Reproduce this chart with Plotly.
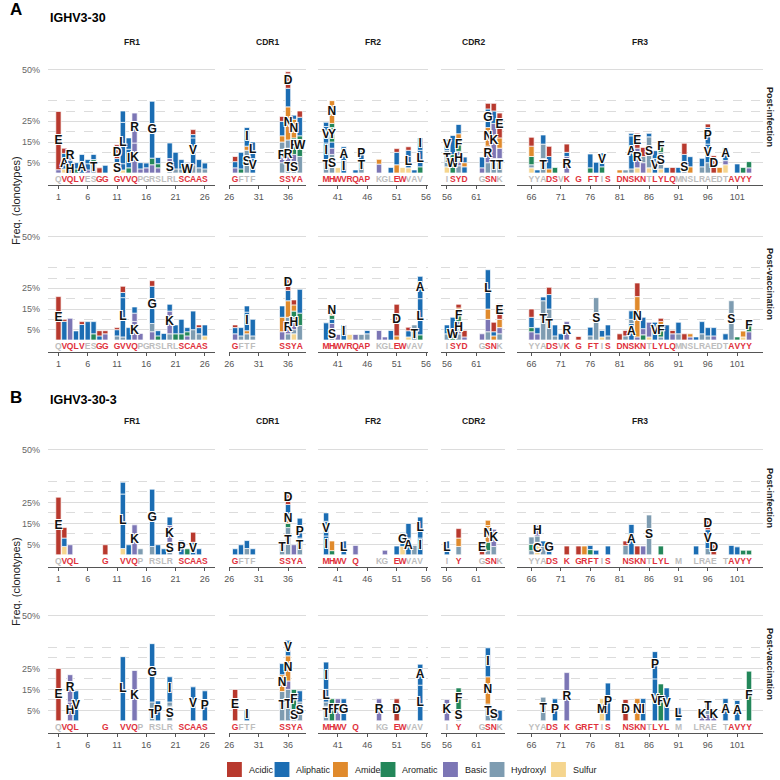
import plotly.graph_objects as go

# ---------------- data ----------------
GENES = ["IGHV3-30", "IGHV3-30-3"]
CONDITIONS = ["Post-infection", "Post-vaccination"]
REGIONS = ["FR1", "CDR1", "FR2", "CDR2", "FR3"]
REGION_SPAN = [(1, 26), (27, 38), (39, 55), (56, 65), (66, 103)]
X_TICKS = [[1, 6, 11, 16, 21, 26], [26, 31, 36], [41, 46, 51, 56], [56, 61],
           [66, 71, 76, 81, 86, 91, 96, 101]]
Y_TICKS = [5, 15, 25, 50]
Y_TICK_TEXT = ["5%", "15%", "25%", "50%"]
Y_MINOR = [10, 20, 30, 35]
PROPERTIES = ["Acidic", "Aliphatic", "Amide", "Aromatic", "Basic", "Hydroxyl", "Sulfur"]
PROPERTY_AA = ["DE", "AGILPV", "NQ", "FWY", "HKR", "ST", "CM"]

# germline sequence per region (uppercase = highlighted red, lowercase = grey, space = none)
SEQ_A = ["qVQLVesGG GVVQpgrslrlSCAAS", "Gftf    SSYA", "MHWVRQAP kglEWvav", "iSYD  gSNk",
         "yyaDSvK G FTiS DNSKNtLYLQmnslraedtAVYY"]
SEQ_B = ["qVQL    G  VVQp rslr SCAAS", "Gftf    SSYA", "MHWV Q   kg EWvav", "i Y   gSNk",
         "yyaDS K GRFTiS  NSKNtLYL m  lrae tAVYY"]

# position -> stacked segments bottom-up: residue + freq (%); uppercase residue = labelled
A_INF = {
    1: "k1.6 E28.2", 2: "c2 A5 a2.5 e2.5", 3: "H3 a3 R4.5", 4: "f2 a3", 5: "A4.5 a4.5",
    6: "k1.5 a3 a2", 7: "T5 f1.5 a2.5", 8: "e2.5", 9: "a3.7", 11: "S4 a3 D5.5 e1.2",
    12: "c1.5 a3 L20 a5.5", 13: "f2.5 I9 a5.5", 14: "K14.5 R14.5", 15: "k2 a3", 16: "k2.5 a2.3",
    17: "k4 f3.2 G27.5", 18: "k2.5 f2 a3", 20: "S5 k2 a7.5", 21: "s2 a8", 22: "s2 a4.5",
    23: "W3 s2.2", 24: "s4 V13 a1.6 e2.4", 25: "s2.5 a4", 26: "s2 a2.8",
    27: "k2.5 a3 e2.5", 28: "f2 a8", 29: "S11 n2 I9", 30: "V7 L8",
    35: "s5 R6.5 s3.5 n3 a7 e2.4", 36: "T5 R7 s4 N16 a9 D7 e1", 37: "S5 k4 F8 N9 a2",
    38: "s8 W10 a9 e3",
    39: "T6.5 I8 V8 a2", 40: "S9 k3 a3 Y7 f2 N11", 41: "c2.6", 42: "I6 A5 a1.7", 44: "a1.5",
    45: "T6.5 P5.8", 48: "k4.3 n2.3", 50: "a2.7", 51: "n4 a6 e1.8", 52: "c2.7",
    53: "c2.5 L5.5 a3 e1.7", 54: "a1.5", 55: "f3 L8 I6",
    56: "c3 T8 V5.3", 57: "W9 a9.2", 58: "s3.5 H7 F6 n2.5 a4.5", 59: "a3 n2 a2.7",
    62: "k2.5 a5.2", 63: "s5 R8 N9 G9 e2.7", 64: "T7 K17 a6 e3.7", 65: "T7 k5 n5 E12",
    66: "c2.5 s1.5 f4 n5 e4.3", 67: "a1.5", 68: "T7 s7 a4.4", 69: "n2 a6 e4.9", 70: "f2.7",
    72: "R8 a2 e4", 76: "f2.5 a6.7", 77: "a5.2", 78: "f3 V6.7", 81: "n1.5", 82: "s1.5",
    83: "s2 A16 a1.2", 84: "c2.5 R9.5 E7.2", 85: "k5 s3 e4.4", 86: "c2.5 S15 a1.7",
    87: "V7 a3.8", 88: "c2 S8 F5.2", 89: "a2.7", 90: "e2.7", 91: "a2.7", 92: "S5 a4 e5.4",
    93: "n3 a4.9", 95: "s3 a4.1", 96: "s5 V9 P8 e1.7", 97: "D8.4", 98: "n2.7",
    99: "c4 k2 A6.4", 101: "a4.4", 102: "f2.7", 103: "k2.5 f3",
}
A_VAC = {
    1: "E21", 2: "a9 e1", 3: "k10.5", 4: "a4.4", 5: "a7.5 e1.4", 6: "a8.9", 7: "f3 a5.9",
    8: "a2 e2.5", 9: "k3 e1.5", 11: "s2 a3 e1", 12: "s1.5 L19 a2.5 e3", 13: "a6",
    14: "K9 k4 a3", 15: "k3.2", 17: "k4 s4 G18 e2.7", 18: "f2 a2.5", 19: "a3.2",
    20: "s3 K11 a3.3", 21: "f3 a4.3", 22: "f3 a7", 23: "k2 f2 a2", 24: "s5 a9",
    25: "s3 a3 e1.3", 26: "c2 a5.3",
    27: "k3 a3 e1.3", 28: "s2 a4", 29: "s3 n1.5 I9 a3", 30: "s2 a8", 35: "k4 n7 a5.5",
    36: "s3 R6 s2 n8 a5 D7", 37: "c3 s2 H6 f3 n3 e2.4", 38: "s7 f6 a11.5",
    39: "a8.3", 40: "S5 k3 a2 f2 N4", 41: "k2.7", 42: "I7.3", 43: "c2.7", 44: "k2.7",
    45: "s2.7", 46: "s3 a1.6", 48: "k4.6", 49: "k1.5", 50: "a4.6", 51: "n2 D15.3",
    53: "c1.5 a3 e1.7", 54: "T5 s2.3", 55: "f2.5 L17.5 A10.8",
    56: "s3 a4.3", 57: "W5 a6", 58: "s3 H6 F5 n1.5 e1.8", 59: "k1.5 e3.1", 62: "k3",
    63: "s4 k6 n5 L19", 64: "n2 a2 e4.6", 65: "s3 k3 n4 E7.6",
    66: "k4 f2 a5 e4", 67: "k3 a3", 68: "T19 a1.8", 69: "T15 a7 e3.5", 70: "s2 a5.3",
    71: "a3", 72: "R8.9", 74: "e1.7", 76: "s2 a4.2", 77: "S20.5", 78: "c1.5 a3.1",
    79: "s2 a5.3", 81: "e3", 82: "s2 e2.6", 83: "A8 s2 a4.1", 84: "k1.5 N19.5 e6.6",
    85: "f2.5 k3 a5.5", 86: "c1.5 k7.1", 87: "V8.6", 88: "s1.5 F6 n1.5 e1.5", 89: "a7.3",
    90: "k3 e1.6", 91: "s3 a5.6", 92: "e3", 93: "k1.5 n1.5", 94: "a1.5", 95: "s3 a5.9",
    96: "s2 a4", 97: "k2 a4", 99: "a3", 100: "S19", 101: "f1.5", 102: "c1.5 n2.8",
    103: "k4 F6",
}
B_INF = {
    1: "E27.5", 2: "c4 a4 e5", 3: "k4.8", 9: "e4.8", 12: "c3 L26 a5.6", 13: "a4.8",
    14: "K14.3", 15: "s2.9", 17: "s4 G27.3", 18: "a4.8", 19: "a2.9", 20: "S6 K8 a4",
    22: "P7", 23: "f2.9", 24: "V6 e4.8", 25: "a2.9",
    27: "a2.9", 28: "a4.8", 29: "s3 a3.8", 30: "a2.9", 35: "T6.8", 36: "T13 f2 N4 a5 D6",
    37: "k4.8", 38: "T8 P6 a3.5",
    39: "I9 V7 a4", 40: "f2 n4.6", 42: "L6.6", 44: "k4.5", 49: "k2.2", 51: "a4.2",
    52: "c4 G6.6", 53: "A8 a7", 54: "s4.5", 55: "I8 L10",
    56: "L6.6", 58: "s4 n4 e4.5", 62: "E6.6", 63: "s2 f4 N8 n2.5", 64: "s4 K8.2",
    66: "s2 f3 s3.5", 67: "C6 s3 H5", 68: "s4 a2.6", 69: "G6.6", 72: "e4.2", 74: "e4.2",
    75: "n4.2", 76: "f2.5 a2", 77: "a2.2", 79: "a4.2", 82: "s4.5 e2.1", 83: "A14.5",
    84: "e4.2", 85: "k4.2", 86: "S19", 88: "f4.2", 94: "a4.2", 96: "s3 V9 D5.8",
    97: "D6.6", 100: "a4.5", 101: "a3.8", 102: "f2.2", 103: "f2.2",
}
B_VAC = {
    1: "E25", 3: "H9 R13", 4: "V14.3", 12: "L30.6", 14: "K24", 17: "T6 s3 G27.8",
    18: "P9.5", 20: "S7 s2 I12", 24: "V16.2", 26: "P14.3",
    27: "E15", 29: "I5.2", 35: "T14 N8 a5.3", 36: "T15 k4 N12 V7.4", 37: "S5 F10",
    38: "S9 a5.3",
    39: "T7 s2 L6 I13", 40: "F10.5", 41: "R10.5", 42: "G10.5", 48: "R10.5", 51: "D10.5",
    55: "L17 A10",
    56: "K10.2", 58: "S5 F10.7", 63: "T8 N13 I13.8", 64: "S5.1", 65: "a5.1",
    68: "T11.3", 70: "P10.5", 72: "R23", 78: "M10.6", 79: "P18", 82: "D10.2", 84: "N10.6",
    85: "I10.6", 87: "V20 P13", 88: "F17.6", 89: "V15.7", 91: "L6.2", 95: "K5.7",
    96: "k3 T7.2", 97: "K5.7", 99: "A10.6", 101: "A9.7", 103: "F23.7",
}

# ---------------- styling / layout ----------------
PROP_COLORS = ["#B8392E", "#1B6DB3", "#E08A2C", "#23875A", "#7C76B5", "#7E9CB1", "#F5D58E"]
SEQ_RED, SEQ_GREY = "#E0313C", "#BDBDBD"
FONT = "Liberation Sans, Arial, sans-serif"
S = 780.0
COL_PX = [(44.3, 213.3), (226.7, 305.0), (317.0, 428.0), (441.0, 506.0), (518.0, 766.0)]
X_RANGE = [(-0.8, 27.8), (25.9, 39.1), (37.65, 56.35), (55.0, 66.0), (63.6, 105.4)]
ROW_PX = [(49, 185), (216, 352), (429, 567), (595, 733)]
Y_RANGE = [-5.8, 60]

aa_color = {}
for col, aas in zip(PROP_COLORS, PROPERTY_AA):
    for a in aas:
        aa_color[a] = col

PANELS = [A_INF, A_VAC, B_INF, B_VAC]
SEQS = [SEQ_A, SEQ_A, SEQ_B, SEQ_B]

fig = go.Figure()
layout = dict(
    width=780, height=780, margin=dict(l=0, r=0, t=0, b=0),
    paper_bgcolor="white", plot_bgcolor="white", barmode="overlay",
    showlegend=False, font=dict(family=FONT),
)
shadow = "1px 1px 0 #fff, -1px -1px 0 #fff, 1px -1px 0 #fff, -1px 1px 0 #fff"

for r in range(4):
    data = PANELS[r]
    for c in range(5):
        idx = r * 5 + c + 1
        xa = "x" if idx == 1 else f"x{idx}"
        ya = "y" if idx == 1 else f"y{idx}"
        lo, hi = REGION_SPAN[c]
        xs, ys, bases, cols = [], [], [], []
        lx, ly, lt = [], [], []
        for pos in range(lo, hi + 1):
            if pos not in data:
                continue
            b = 0.0
            for seg in data[pos].split():
                aa, h = seg[0], float(seg[1:])
                xs.append(pos); ys.append(h); bases.append(b)
                cols.append(aa_color[aa.upper()])
                if aa.isupper():
                    lx.append(pos); ly.append(b + h / 2); lt.append(aa)
                b += h
        fig.add_trace(go.Bar(
            x=xs, y=ys, base=bases, width=0.9,
            marker=dict(color=cols, line=dict(color="white", width=0.7)),
            xaxis=xa, yaxis=ya, hoverinfo="skip"))
        seq = SEQS[r][c]
        sx, st, sc = [], [], []
        for i, ch in enumerate(seq):
            if ch == " ":
                continue
            sx.append(lo + i); st.append(ch.upper())
            sc.append(SEQ_RED if ch.isupper() else SEQ_GREY)
        fig.add_trace(go.Scatter(
            x=sx, y=[-3.4] * len(sx), mode="text", text=st,
            textfont=dict(color=sc, size=8.5, family=FONT, weight="bold"),
            xaxis=xa, yaxis=ya, hoverinfo="skip"))
        fig.add_trace(go.Scatter(
            x=lx, y=ly, mode="text", text=lt,
            textfont=dict(color="#111", size=12, family=FONT, weight="bold", shadow=shadow),
            xaxis=xa, yaxis=ya, hoverinfo="skip"))

        x0, x1 = COL_PX[c]
        top, bot = ROW_PX[r]
        layout["xaxis" if idx == 1 else f"xaxis{idx}"] = dict(
            domain=[x0 / S, x1 / S], range=list(X_RANGE[c]), anchor=ya,
            tickmode="array", tickvals=X_TICKS[c], ticks="outside", ticklen=3,
            tickcolor="#555", showline=True, linecolor="#555", linewidth=1.2,
            showgrid=False, zeroline=False,
            tickfont=dict(size=9, color="#555", family=FONT), fixedrange=True)
        layout["yaxis" if idx == 1 else f"yaxis{idx}"] = dict(
            domain=[1 - bot / S, 1 - top / S], range=Y_RANGE, anchor=xa,
            tickmode="array", tickvals=Y_TICKS, ticktext=Y_TICK_TEXT,
            showticklabels=(c == 0), ticks="outside", ticklen=5,
            tickcolor="rgba(0,0,0,0)",
            tickfont=dict(size=9, color="#666", family=FONT),
            showgrid=True, gridcolor="#DCDCDC", gridwidth=1,
            minor=dict(tickvals=Y_MINOR, showgrid=True, griddash="dash",
                       gridcolor="#DCDCDC", gridwidth=1, ticks=""),
            zeroline=False, showline=False, fixedrange=True)

ann = []
def px_ann(x, y, text, size, bold=False, xanchor="center", angle=0, color="#1a1a1a"):
    ann.append(dict(
        x=x / S, y=1 - y / S, xref="paper", yref="paper", text=f"<b>{text}</b>" if bold else text,
        showarrow=False, xanchor=xanchor, yanchor="middle", textangle=angle,
        font=dict(size=size, color=color, family=FONT)))

for g, (ly_label, ly_gene, ly_head, ly_title) in enumerate([(10, 18, 42, 200), (397, 400, 421, 581)]):
    px_ann(4, ly_label, "AB"[g], 17, bold=True, xanchor="left", color="#000")
    px_ann(44, ly_gene, GENES[g], 12.5, bold=True, xanchor="left", color="#000")
    for c in range(5):
        px_ann(sum(COL_PX[c]) / 2, ly_head, REGIONS[c], 8.5, bold=True)
    px_ann(12, ly_title, "Freq. (clonotypes)", 11, angle=-90, color="#222")
for r in range(4):
    px_ann(773, sum(ROW_PX[r]) / 2, CONDITIONS[r % 2], 9, bold=True, angle=90, color="#222")

# legend (drawn manually)
shapes = []
LEG_X = [225, 273, 332, 380, 443, 490, 552]
for name, col, lx0 in zip(PROPERTIES, PROP_COLORS, LEG_X):
    shapes.append(dict(type="rect", xref="paper", yref="paper",
                       x0=lx0 / S, x1=(lx0 + 15) / S, y0=1 - 777 / S, y1=1 - 762 / S,
                       fillcolor=col, line=dict(width=0)))
    px_ann(lx0 + 20, 769.5, name, 9, xanchor="left", color="#222")

layout["annotations"] = ann
layout["shapes"] = shapes
fig.update_layout(**layout)
fig.write_html("out.html")
